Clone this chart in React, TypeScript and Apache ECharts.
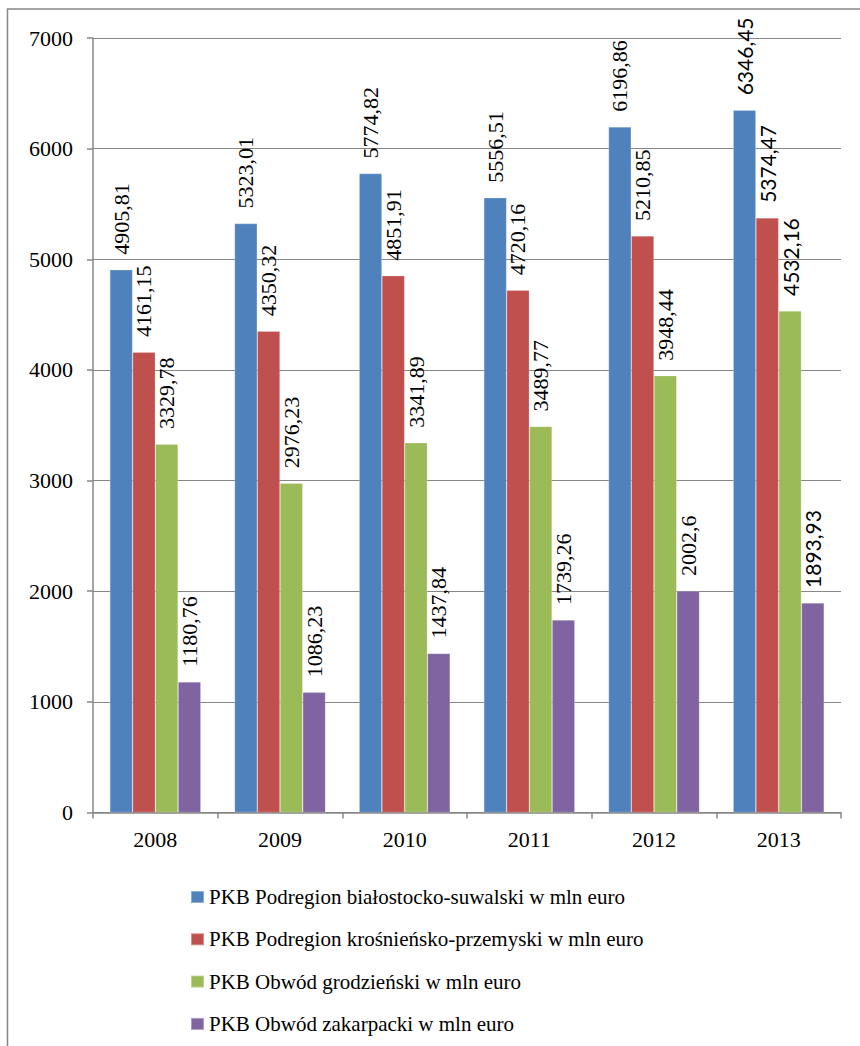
import React, { useEffect, useRef } from "react";
import * as echarts from "echarts";

const categories = ["2008", "2009", "2010", "2011", "2012", "2013"];
const seriesNames = [
  "PKB Podregion białostocko-suwalski w mln euro",
  "PKB Podregion krośnieńsko-przemyski w mln euro",
  "PKB Obwód grodzieński w mln euro",
  "PKB Obwód zakarpacki w mln euro",
];
const bialostockoSuwalski = [4905.81, 5323.01, 5774.82, 5556.51, 6196.86, 6346.45];
const krosnienskoPrzemyski = [4161.15, 4350.32, 4851.91, 4720.16, 5210.85, 5374.47];
const grodzienski = [3329.78, 2976.23, 3341.89, 3489.77, 3948.44, 4532.16];
const zakarpacki = [1180.76, 1086.23, 1437.84, 1739.26, 2002.6, 1893.93];
const yTicks = [0, 1000, 2000, 3000, 4000, 5000, 6000, 7000];

const colors = ["#4F81BD", "#C0504D", "#9BBB59", "#8064A2"];
const FONT = "Liberation Serif";
const SANS = "Lato";
const GRAY = "#878787";

export default function App() {
  const ref = useRef<HTMLDivElement>(null);
  useEffect(() => {
    if (!ref.current) return;
    const chart = echarts.init(ref.current, undefined, { renderer: "svg" });
    const allData = [bialostockoSuwalski, krosnienskoPrzemyski, grodzienski, zakarpacki];
    chart.setOption({
      animation: false,
      backgroundColor: "#ffffff",
      textStyle: { fontFamily: FONT },
      grid: { left: 93, right: 19, top: 38, bottom: 233.5, containLabel: false },
      graphic: [
        {
          type: "rect",
          shape: { x: 7.5, y: 9, width: 900, height: 1100 },
          style: { fill: "none", stroke: GRAY, lineWidth: 1.5 },
          silent: true,
          z: -1,
        },
      ],
      legend: {
        orient: "vertical",
        left: 185,
        top: 881,
        itemWidth: 13,
        itemHeight: 12,
        itemGap: 20.3,
        icon: "rect",
        textStyle: { fontFamily: FONT, fontSize: 21, color: "#000", lineHeight: 22 },
        data: seriesNames,
      },
      xAxis: {
        type: "category",
        data: categories,
        axisLine: { lineStyle: { color: GRAY, width: 1.5 } },
        axisTick: { show: true, length: 6, lineStyle: { color: GRAY, width: 1.5 } },
        axisLabel: { fontFamily: FONT, fontSize: 22, color: "#000", margin: 16 },
        splitLine: { show: false },
      },
      yAxis: {
        type: "value",
        min: yTicks[0],
        max: yTicks[yTicks.length - 1],
        interval: 1000,
        axisLine: { show: true, lineStyle: { color: GRAY, width: 1.5 } },
        axisTick: { show: true, length: 6, lineStyle: { color: GRAY, width: 1.5 } },
        axisLabel: {
          fontFamily: FONT,
          fontSize: 22,
          color: "#000",
          margin: 20,
          formatter: (v: number) => String(v),
        },
        splitLine: { show: true, lineStyle: { color: GRAY, width: 1.2 } },
      },
      series: seriesNames.map((name, i) => ({
        name,
        type: "bar",
        data: allData[i].map((v, j) => ({
          value: v,
          label: j === 5 ? { fontFamily: SANS, fontSize: 21 } : undefined,
        })),
        barGap: "0%",
        barCategoryGap: "27%",
        itemStyle: { color: colors[i], borderColor: "rgba(255,255,255,0.35)", borderWidth: 0.6 },
        label: {
          show: true,
          position: "top",
          rotate: 90,
          align: "left",
          verticalAlign: "middle",
          distance: 15,
          fontFamily: FONT,
          fontSize: 22,
          color: "#000",
          formatter: (p: any) => String(p.value).replace(".", ","),
        },
      })),
    });
    return () => chart.dispose();
  }, []);
  return (
    <div
      ref={ref}
      style={{ position: "fixed", left: 0, top: 0, width: 860, height: 1046 }}
    />
  );
}
